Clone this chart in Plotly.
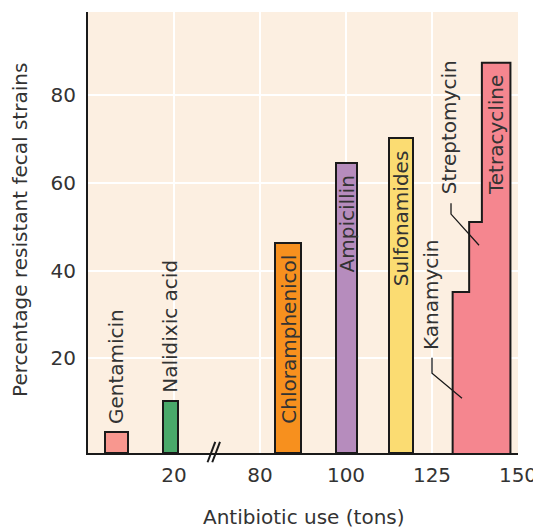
import numpy as np
import plotly.graph_objects as go

# ---------------- data ----------------
antibiotics = ["Gentamicin", "Nalidixic acid", "Chloramphenicol", "Ampicillin",
               "Sulfonamides", "Kanamycin", "Streptomycin", "Tetracycline"]
use_start_tons = [4.0, 17.4, 83.5, 97.7, 112.5, 131.0, 135.8, 139.5]
use_end_tons = [9.3, 22.8, 89.6, 103.3, 119.5, 135.8, 139.5, 147.8]
resistant_pct = [3.2, 10.3, 46.3, 64.5, 70.2, 35.1, 51.1, 87.4]
bar_colors = ["#f8978f", "#49a96a", "#f7901e", "#b68cbd", "#fbdc72",
              "#f5868f", "#f5868f", "#f5868f"]
tick_tons = [0, 20, 80, 100, 125, 150]
tick_labels = ["", "20", "80", "100", "125", "150"]
y_ticks = [20, 40, 60, 80]
y_axis_min = -1.6   # the drawn baseline sits slightly below 0
y_axis_max = 99.0

FONT = "DejaVu Sans"
TXT = "#333333"
EDGE = "#1a1a1a"

# broken x-axis: each tick interval gets equal width
tick_pos = list(range(len(tick_tons)))
def pos(t):
    return np.interp(t, tick_tons, tick_pos)

x0 = pos(use_start_tons)
x1 = pos(use_end_tons)
xc = (x0 + x1) / 2
w = x1 - x0
vals = np.array(resistant_pct)
lengths = vals - y_axis_min

fig = go.Figure()

# separate bars (first five)
fig.add_trace(go.Bar(
    x=xc[:5], y=lengths[:5], base=y_axis_min, width=w[:5],
    marker=dict(color=bar_colors[:5], line=dict(color=EDGE, width=2)),
    hoverinfo="skip", showlegend=False))

# stepped group (Kanamycin, Streptomycin, Tetracycline)
fig.add_trace(go.Bar(
    x=xc[5:], y=lengths[5:], base=y_axis_min, width=w[5:],
    marker=dict(color=bar_colors[5:], line=dict(width=0)),
    hoverinfo="skip", showlegend=False))

# outline of the stepped group
sx, sy = [x0[5]], [y_axis_min]
for i in range(5, 8):
    sx += [x0[i], x1[i]]
    sy += [vals[i], vals[i]]
sx += [x1[7]]
sy += [y_axis_min]
fig.add_trace(go.Scatter(x=sx, y=sy, mode="lines",
                         line=dict(color=EDGE, width=2),
                         hoverinfo="skip", showlegend=False))

# ---------------- labels ----------------
ann = []
for i, name in enumerate(antibiotics):
    if name in ("Gentamicin", "Nalidixic acid"):
        ann.append(dict(x=xc[i], y=vals[i], text=name, textangle=-90,
                        xanchor="center", yanchor="bottom", yshift=6,
                        showarrow=False))
    elif name in ("Chloramphenicol", "Ampicillin", "Sulfonamides", "Tetracycline"):
        ann.append(dict(x=xc[i], y=vals[i], text=name, textangle=-90,
                        xanchor="center", yanchor="top", yshift=-10,
                        showarrow=False))

# callout labels
ann.append(dict(x=3.98, y=21.4, text="Kanamycin", textangle=-90,
                xanchor="center", yanchor="bottom", showarrow=False))
ann.append(dict(x=4.20, y=57.0, text="Streptomycin", textangle=-90,
                xanchor="center", yanchor="bottom", showarrow=False))

# axis titles
ann.append(dict(x=-0.158, y=0.506, xref="paper", yref="paper",
                text="Percentage resistant fecal strains", textangle=-90,
                xanchor="center", yanchor="middle", showarrow=False))
ann.append(dict(x=0.502, y=-0.145, xref="paper", yref="paper",
                text="Antibiotic use (tons)",
                xanchor="center", yanchor="middle", showarrow=False))

shapes = []
# leader lines
shapes.append(dict(type="path", xref="x", yref="y",
                   path="M 4.0 20.1 L 4.0 16.6 L 4.349 10.9",
                   line=dict(color=EDGE, width=1.3)))
shapes.append(dict(type="path", xref="x", yref="y",
                   path="M 4.221 55.4 L 4.221 52.9 L 4.547 45.8",
                   line=dict(color=EDGE, width=1.3)))
# axis break marks
for dx in (0.0, 0.055):
    shapes.append(dict(type="line", xref="x", yref="paper",
                       x0=1.39 + dx, y0=-0.021, x1=1.48 + dx, y1=0.025,
                       line=dict(color=EDGE, width=2)))

# the page body adds an 8px margin, so the figure is 8px smaller
fig.update_layout(
    width=533, height=523,
    margin=dict(l=80, r=23, t=4, b=78),
    paper_bgcolor="white", plot_bgcolor="#fcefe1",
    font=dict(family=FONT, size=20, color=TXT),
    bargap=0, barmode="overlay",
    annotations=ann, shapes=shapes,
)
fig.update_xaxes(range=[0, 5], tickvals=tick_pos, ticktext=tick_labels,
                 showgrid=True, gridcolor="white", gridwidth=2,
                 showline=True, linecolor=EDGE, linewidth=2,
                 ticks="", zeroline=False, ticklabelstandoff=3,
                 fixedrange=True)
fig.update_yaxes(range=[y_axis_min, y_axis_max], tickvals=y_ticks,
                 showgrid=True, gridcolor="white", gridwidth=2,
                 showline=True, linecolor=EDGE, linewidth=2,
                 ticks="", zeroline=False, ticklabelstandoff=6,
                 fixedrange=True)

fig.write_html("out.html")
